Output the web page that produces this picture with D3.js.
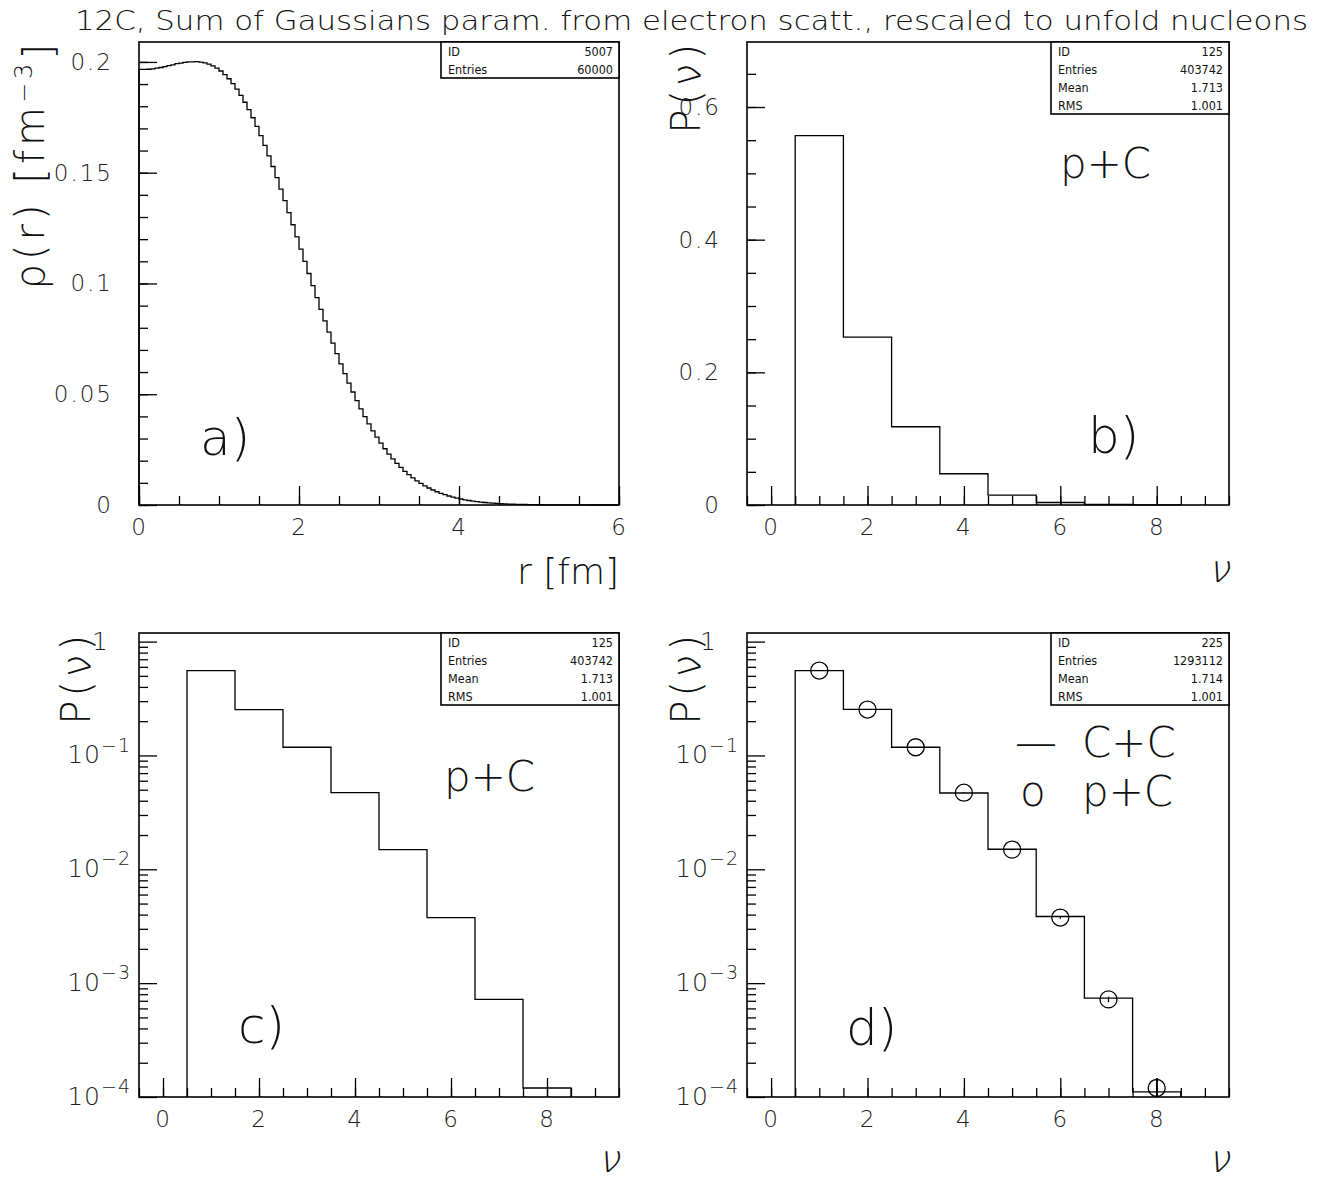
<!DOCTYPE html>
<html>
<head>
<meta charset="utf-8">
<script src="https://cdn.jsdelivr.net/npm/d3@7"></script>
<style>
body { margin: 0; background: #fff; }
text { font-family: "DejaVu Sans", sans-serif; font-weight: 200; fill: #111; }
.stat text { font-family: "DejaVu Sans Condensed", "DejaVu Sans", sans-serif; font-weight: 400; font-size: 12.5px; }
.tick line { stroke: #000; stroke-width: 1.3; }
.tick text { font-size: 23px; font-weight: 200; fill: #222; letter-spacing: 2px; }
</style>
</head>
<body>
<svg id="chart" width="1322" height="1180"></svg>
<script>
// ---- data ----
var rhoBinWidth = 0.05;            // fm, 120 bins from 0 to 6
var rho = [
  0.1966, 0.1966, 0.1967, 0.1969, 0.1972, 0.1975, 0.1979, 0.1983, 0.1987, 0.1992,
  0.1995, 0.1998, 0.2000, 0.2000, 0.2001, 0.1999, 0.1996, 0.1990, 0.1982, 0.1972,
  0.1959, 0.1943, 0.1924, 0.1902, 0.1877, 0.1849, 0.1818, 0.1785, 0.1748, 0.1709,
  0.1667, 0.1623, 0.1576, 0.1528, 0.1478, 0.1426, 0.1374, 0.1320, 0.1265, 0.1210,
  0.1155, 0.1100, 0.1045, 0.0990, 0.0936, 0.0883, 0.0831, 0.0780, 0.0731, 0.0683,
  0.0637, 0.0593, 0.0550, 0.0510, 0.0471, 0.0434, 0.0399, 0.0366, 0.0335, 0.0306,
  0.0279, 0.0254, 0.0230, 0.0208, 0.0188, 0.0170, 0.0152, 0.0137, 0.0122, 0.0109,
  0.00973, 0.00865, 0.00767, 0.00678, 0.00599, 0.00528, 0.00464, 0.00406, 0.00356, 0.00310,
  0.00270, 0.00235, 0.00204, 0.00176, 0.00152, 0.00131, 0.00113, 0.000968, 0.000828, 0.000707,
  0.000603, 0.000512, 0.000435, 0.000368, 0.000311, 0.000262, 0.000221, 0.000185, 0.000155, 0.000130,
  0.000108, 0.0000895, 0.000074, 0.000061, 0.00005, 0.000041, 0.000034, 0.000028, 0.000023, 0.000018,
  0.000015, 0.000012, 0.00001, 0.000008, 0.000006, 0.000005, 0.000004, 0.000003, 0.000002, 0.000002
];

var nu = [1, 2, 3, 4, 5, 6, 7, 8];
var pC = [0.557, 0.253, 0.118, 0.0471, 0.0149, 0.00377, 0.00072, 0.00012];
var pCerr = [0.0012, 0.0008, 0.0005, 0.0003, 0.0002, 0.0001, 0.00004, 0.000026];
var cC = [0.556, 0.254, 0.118, 0.0468, 0.0150, 0.00385, 0.00074, 0.000111];

var statsA = [["ID", "5007"], ["Entries", "60000"]];
var statsB = [["ID", "125"], ["Entries", "403742"], ["Mean", "1.713"], ["RMS", "1.001"]];
var statsD = [["ID", "225"], ["Entries", "1293112"], ["Mean", "1.714"], ["RMS", "1.001"]];

var rTicks = [0, 2, 4, 6];
var rhoTicks = [0, 0.05, 0.1, 0.15, 0.2];
var pLinTicks = [0, 0.2, 0.4, 0.6];
var nuTicks = [0, 2, 4, 6, 8];
var decades = [1, 1e-1, 1e-2, 1e-3, 1e-4];

var title = "12C, Sum of Gaussians param. from electron scatt., rescaled to unfold nucleons";

// ---- drawing ----
var svg = d3.select("#chart");
svg.append("rect").attr("width", 1322).attr("height", 1180).attr("fill", "#fff");

svg.append("text").attr("x", 75).attr("y", 30)
  .attr("textLength", 1233).attr("lengthAdjust", "spacingAndGlyphs")
  .style("font-size", "26px").text(title);

function makePanel(x0, x1, y0, y1) {
  var g = svg.append("g");
  return { g: g, x0: x0, x1: x1, y0: y0, y1: y1 };
}

function drawAxes(p, x, y, o) {
  // minor ticks first, then major ticks with labels (all ticks point inwards)
  p.g.append("g").attr("transform", "translate(0," + p.y1 + ")")
    .call(d3.axisBottom(x).tickValues(o.xMinor).tickSize(-9).tickSizeOuter(0).tickFormat(""))
    .call(function(s) { s.select(".domain").remove(); });
  p.g.append("g").attr("transform", "translate(0," + p.y1 + ")")
    .call(d3.axisBottom(x).tickValues(o.xMajor).tickSize(-19).tickSizeOuter(0).tickPadding(14).tickFormat(d3.format("d")))
    .call(function(s) { s.select(".domain").remove(); });
  p.g.append("g").attr("transform", "translate(" + p.x0 + ",0)")
    .call(d3.axisLeft(y).tickValues(o.yMinor).tickSize(-9).tickSizeOuter(0).tickFormat(""))
    .call(function(s) { s.select(".domain").remove(); });
  var ya = p.g.append("g").attr("transform", "translate(" + p.x0 + ",0)")
    .call(d3.axisLeft(y).tickValues(o.yMajor).tickSize(-18).tickSizeOuter(0).tickPadding(o.yPad || 26).tickFormat(o.yFmt))
    .call(function(s) { s.select(".domain").remove(); });
  if (o.log) {
    ya.selectAll(".tick text").each(function(d) {
      var t = d3.select(this);
      var e = Math.round(Math.log10(d));
      t.style("letter-spacing", "1px");
      if (e === 0) { t.text("1").attr("x", -30).style("font-size", "25px"); return; }
      t.text("").attr("x", -8);
      t.append("tspan").style("font-size", "25px").text("10");
      t.append("tspan").attr("dy", "-0.62em").style("font-size", "19px").text("\u2212" + (-e));
    });
  }
  p.g.append("rect").attr("x", p.x0).attr("y", p.y0)
    .attr("width", p.x1 - p.x0).attr("height", p.y1 - p.y0)
    .attr("fill", "none").attr("stroke", "#000").attr("stroke-width", 1.6);
}

function stepPoints(edges, vals, base) {
  var pts = [[edges[0], base]];
  vals.forEach(function(v, i) {
    pts.push([edges[i], v]);
    pts.push([edges[i + 1], v]);
  });
  pts.push([edges[edges.length - 1], base]);
  return pts;
}

function drawHist(p, x, y, pts) {
  var line = d3.line().x(function(d) { return x(d[0]); }).y(function(d) { return y(d[1]); });
  p.g.append("path").attr("d", line(pts))
    .attr("fill", "none").attr("stroke", "#000").attr("stroke-width", 1.3);
}

function drawStats(p, rows) {
  var w = 178, h = rows.length * 18;
  var g = p.g.append("g").attr("class", "stat").attr("transform", "translate(" + (p.x1 - w) + "," + p.y0 + ")");
  g.append("rect").attr("width", w).attr("height", h).attr("fill", "#fff").attr("stroke", "#000").attr("stroke-width", 1.6);
  rows.forEach(function(r, i) {
    g.append("text").attr("x", 7).attr("y", 14 + i * 18).text(r[0]);
    g.append("text").attr("x", w - 6).attr("y", 14 + i * 18).attr("text-anchor", "end").text(r[1]);
  });
}

// rotated axis title, ending at the frame top
function yTitle(p, xBase, parts, size) {
  var t = p.g.append("text").attr("transform", "translate(" + xBase + "," + (p.y0 - 2) + ") rotate(-90)")
    .attr("text-anchor", "end").style("font-size", size + "px").style("letter-spacing", "4px");
  parts.forEach(function(s) {
    t.append("tspan").attr("dy", s.dy || null).style("font-size", s.small ? (size * 0.6) + "px" : null).text(s.t);
  });
}

function xTitle(p, yBase, txt, size, slant) {
  p.g.append("text").attr("transform", "translate(" + p.x1 + "," + yBase + ")" + (slant ? " skewX(-14)" : ""))
    .attr("text-anchor", "end").style("font-size", size + "px").text(txt);
}

function label(p, x, y, txt, size) {
  p.g.append("text").attr("x", x).attr("y", y).style("font-size", size + "px").text(txt);
}

var nuEdges = d3.range(0.5, 9.5, 1);
var nuMinor = d3.range(-0.5, 9.51, 0.5);
var pTitle = [{ t: "P(" }, { t: "\u03bd" }, { t: ")" }];

// panel a
var pa = makePanel(139, 619, 42, 505);
var xa = d3.scaleLinear().domain([0, 6]).range([pa.x0, pa.x1]);
var ya = d3.scaleLinear().domain([0, 0.209]).range([pa.y1, pa.y0]);
var rEdges = d3.range(0, rho.length + 1).map(function(i) { return i * rhoBinWidth; });
drawHist(pa, xa, ya, stepPoints(rEdges, rho, 0));
drawAxes(pa, xa, ya, { xMajor: rTicks, xMinor: d3.range(0, 6.01, 0.5), yMajor: rhoTicks,
  yMinor: d3.range(0, 0.2051, 0.01), yFmt: function(d) { return d === 0 ? "0" : d3.format("")(+d.toFixed(2)); } });
drawStats(pa, statsA);
yTitle(pa, 44, [{ t: "\u03c1(r) [fm" }, { t: "\u2212", small: true, dy: "-0.5em" }, { t: "3", small: true }, { t: "]", dy: "0.5em" }], 40);
xTitle(pa, 584, "r [fm]", 36);
label(pa, 200, 455, "a)", 50);

// panel b
var pb = makePanel(747, 1229, 42, 505);
var xb = d3.scaleLinear().domain([-0.5, 9.5]).range([pb.x0, pb.x1]);
var yb = d3.scaleLinear().domain([0, 0.698]).range([pb.y1, pb.y0]);
drawHist(pb, xb, yb, stepPoints(nuEdges, pC, 0));
drawAxes(pb, xb, yb, { xMajor: nuTicks, xMinor: nuMinor, yMajor: pLinTicks,
  yMinor: d3.range(0, 0.6951, 0.05), yFmt: function(d) { return d === 0 ? "0" : d3.format(".1f")(d); } });
drawStats(pb, statsB);
yTitle(pb, 700, pTitle, 40);
xTitle(pb, 582, "\u03bd", 38, true);
label(pb, 1088, 453, "b)", 50);
label(pb, 1060, 178, "p+C", 42);

// panel c
function logMinor() {
  var m = [];
  decades.slice(1).forEach(function(d) { for (var k = 2; k <= 9; k++) m.push(d * k); });
  return m;
}
var pc = makePanel(139, 619, 633, 1097);
var xc = d3.scaleLinear().domain([-0.5, 9.5]).range([pc.x0, pc.x1]);
var yc = d3.scaleLog().domain([1e-4, 1.19]).range([pc.y1, pc.y0]);
drawHist(pc, xc, yc, stepPoints(nuEdges, pC, 1e-4));
drawAxes(pc, xc, yc, { xMajor: nuTicks, xMinor: nuMinor, yMajor: decades, yMinor: logMinor(), log: true, yFmt: function(d) { return ""; } });
drawStats(pc, statsB);
yTitle(pc, 90, pTitle, 40);
xTitle(pc, 1172, "\u03bd", 38, true);
label(pc, 238, 1043, "c)", 50);
label(pc, 444, 791, "p+C", 42);

// panel d
var pd = makePanel(747, 1229, 633, 1097);
var xd = d3.scaleLinear().domain([-0.5, 9.5]).range([pd.x0, pd.x1]);
var yd = d3.scaleLog().domain([1e-4, 1.19]).range([pd.y1, pd.y0]);
drawHist(pd, xd, yd, stepPoints(nuEdges, cC, 1e-4));
pd.g.append("g").selectAll("line").data(nu).enter().append("line")
  .attr("x1", function(d) { return xd(d); }).attr("x2", function(d) { return xd(d); })
  .attr("y1", function(d, i) { return yd(Math.max(1e-4, pC[i] - pCerr[i])); })
  .attr("y2", function(d, i) { return yd(pC[i] + pCerr[i]); })
  .attr("stroke", "#000").attr("stroke-width", 1.3);
pd.g.append("g").selectAll("circle").data(nu).enter().append("circle")
  .attr("cx", function(d) { return xd(d); })
  .attr("cy", function(d, i) { return yd(pC[i]); })
  .attr("r", 8.5).attr("fill", "none").attr("stroke", "#000").attr("stroke-width", 1.3);
drawAxes(pd, xd, yd, { xMajor: nuTicks, xMinor: nuMinor, yMajor: decades, yMinor: logMinor(), log: true, yFmt: function(d) { return ""; } });
drawStats(pd, statsD);
yTitle(pd, 700, pTitle, 40);
xTitle(pd, 1172, "\u03bd", 38, true);
label(pd, 846, 1045, "d)", 50);
label(pd, 1015, 757, "\u2014", 42);
label(pd, 1082, 757, "C+C", 42);
label(pd, 1020, 806, "o", 42);
label(pd, 1082, 806, "p+C", 42);
</script>
</body>
</html>
